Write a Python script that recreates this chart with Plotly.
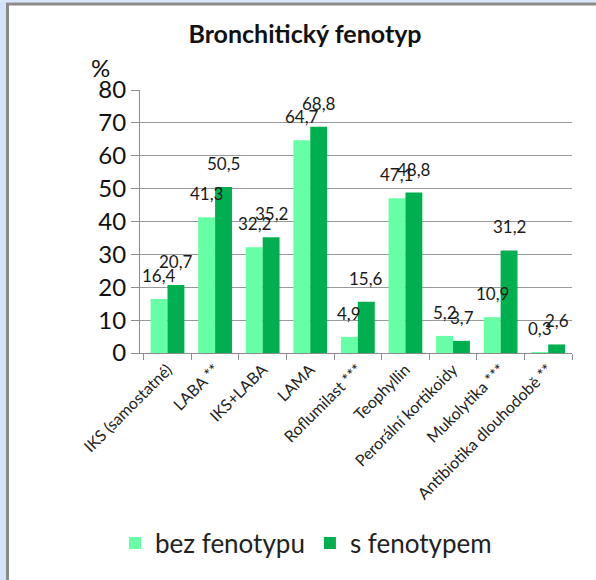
import plotly.graph_objects as go

categories = ["IKS (samostatné)", "LABA **", "IKS+LABA", "LAMA", "Roflumilast ***",
              "Teophyllin", "Perorální kortikoidy", "Mukolytika ***", "Antibiotika dlouhodobě **"]
bez_fenotypu = [16.4, 41.3, 32.2, 64.7, 4.9, 47.1, 5.2, 10.9, 0.3]
s_fenotypem = [20.7, 50.5, 35.2, 68.8, 15.6, 48.8, 3.7, 31.2, 2.6]
series_names = ["bez fenotypu", "s fenotypem"]
y_ticks = [0, 10, 20, 30, 40, 50, 60, 70, 80]

LIGHT = "#66FFA6"
DARK = "#00B050"
FONT = "Lato, 'Open Sans', sans-serif"

# plot area in pixels
L, R, T, B = 140, 572, 90, 353
W, H = 596, 580
PW, PH = R - L, B - T


def px(x):
    return (x - L) / PW


def py(y):
    return (B - y) / PH


fig = go.Figure()
fig.add_trace(go.Bar(x=categories, y=bez_fenotypu, name=series_names[0],
                     marker=dict(color=LIGHT, line=dict(width=0))))
fig.add_trace(go.Bar(x=categories, y=s_fenotypem, name=series_names[1],
                     marker=dict(color=DARK, line=dict(width=0))))


def fmt(v):
    return f"{v:.1f}".replace(".", ",")


annotations = []
for series, shift in ((bez_fenotypu, -8.5), (s_fenotypem, 8.5)):
    for c, v in zip(categories, series):
        annotations.append(dict(x=c, y=v, xref="x", yref="y", text=fmt(v),
                                showarrow=False, xshift=shift, yshift=11,
                                yanchor="bottom", font=dict(size=17, color="#1a1a1a", family=FONT)))

annotations.append(dict(x=px(100), y=py(68), xref="paper", yref="paper", text="%",
                        showarrow=False, xanchor="center", yanchor="middle",
                        font=dict(size=24, color="#111", family=FONT)))

fig.update_layout(
    width=W, height=H,
    margin=dict(l=L, r=W - R, t=T, b=H - B),
    paper_bgcolor="white", plot_bgcolor="white",
    barmode="group", bargap=0.29, bargroupgap=0,
    title=dict(text="<b>Bronchitický fenotyp</b>", x=305 / W, y=1 - 34 / H,
               xref="container", yref="container", xanchor="center", yanchor="middle",
               font=dict(size=25, color="#111", family=FONT)),
    font=dict(family=FONT, color="#111"),
    showlegend=True,
    legend=dict(orientation="h", x=px(306), y=py(543), xanchor="center", yanchor="middle",
                font=dict(size=26, color="#222", family=FONT), itemwidth=30,
                traceorder="normal", itemclick=False),
    annotations=annotations,
    xaxis=dict(tickangle=-45, tickfont=dict(size=16, color="#222", family=FONT),
               showline=True, linecolor="#8c8c8c", linewidth=1.2,
               ticks="outside", tickson="boundaries", ticklen=6, tickcolor="#8c8c8c",
               showgrid=False, automargin=False),
    yaxis=dict(range=[0, 80], tickvals=y_ticks, tickfont=dict(size=24, color="#111", family=FONT),
               showline=True, linecolor="#8c8c8c", linewidth=1.2,
               ticks="outside", ticklen=8, tickcolor="#8c8c8c",
               gridcolor="#9a9a9a", gridwidth=1.2, zeroline=False, automargin=False),
    shapes=[
        dict(type="rect", xref="paper", yref="paper", x0=px(0), x1=px(6.5),
             y0=py(H), y1=py(0), fillcolor="#CFE4FA", line=dict(width=0), layer="above"),
        dict(type="line", xref="paper", yref="paper", x0=px(7.5), x1=px(7.5),
             y0=py(H), y1=py(3), line=dict(color="#8a8a8a", width=3)),
        dict(type="rect", xref="paper", yref="paper", x0=px(0), x1=px(W),
             y0=py(2.5), y1=py(0), fillcolor="#D6E8FA", line=dict(width=0), layer="above"),
        dict(type="line", xref="paper", yref="paper", x0=px(6), x1=px(W),
             y0=py(4), y1=py(4), line=dict(color="#8a8a8a", width=3)),
    ],
)

fig.write_html("out.html", config={"displayModeBar": False},
               post_script="document.body.style.margin='0';document.body.style.padding='0';")
